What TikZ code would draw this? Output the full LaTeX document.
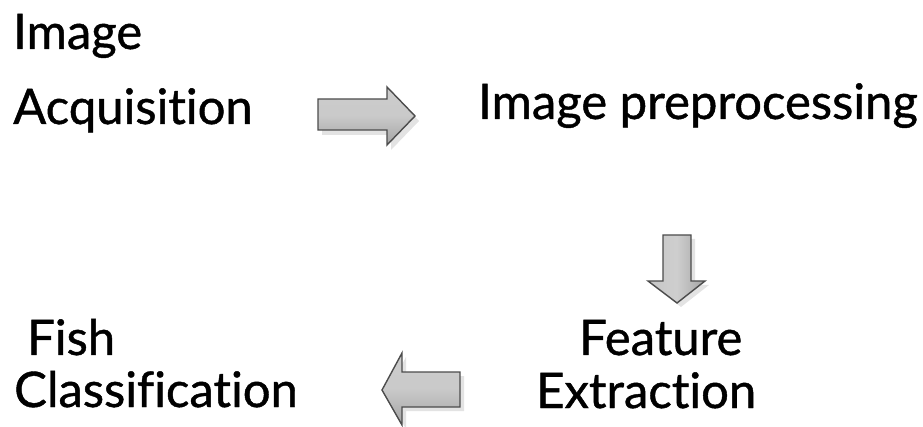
\documentclass[tikz,border=0pt]{standalone}
\usepackage{fontspec}
\setmainfont{Lato}
\newfontfamily\lblfont{Lato}[FakeBold=0.9, Ligatures={NoCommon,NoContextual}, RawFeature={-liga;-clig;-dlig}]
\begin{document}
\begin{tikzpicture}[x=1pt,y=-1pt,
  lbl/.style={anchor=base west, inner sep=0pt, font=\lblfont\fontsize{49}{49}\selectfont},
  shadowarrow/.style={fill=gray!22, draw=none},
  harrow/.style={draw=gray!60!black, line width=1.4pt, line join=miter, top color=gray!40, bottom color=gray!72, middle color=gray!42},
  varrow/.style={draw=gray!60!black, line width=1.4pt, line join=miter, left color=gray!45, right color=gray!72, middle color=gray!38}]
\useasboundingbox (0,0) rectangle (923,427);

% texts
\node[lbl] (img) at (13,49) {Image};
\node[lbl] (acq) at (13,124) {Acquisition};
\node[lbl] (pre) at (478,119) {Image preprocessing};
\node[lbl] (feat) at (579,355) {Feature};
\node[lbl] (extr) at (536,408) {Extraction};
\node[lbl] (fish) at (27,355) {Fish};
\node[lbl] (cls) at (14,407) {Classification};

% arrow 1: right
\fill[shadowarrow] (322,104) -- (391,104) -- (391,92) -- (419,121) -- (391,150) -- (391,135) -- (322,135) -- cycle;
\path[harrow] (318,99) -- (387,99) -- (387,87) -- (415,116) -- (387,145) -- (387,130) -- (318,130) -- cycle;

% arrow 2: down
\fill[shadowarrow] (667,239) -- (695,239) -- (695,285) -- (709,285) -- (681,307) -- (652,285) -- (667,285) -- cycle;
\path[varrow] (663,235) -- (691,235) -- (691,281) -- (705,281) -- (677,303) -- (648,281) -- (663,281) -- cycle;

% arrow 3: left
\fill[shadowarrow] (386,394) -- (406,357) -- (406,376) -- (464,376) -- (464,411) -- (406,411) -- (406,429) -- cycle;
\path[harrow] (382,390) -- (402,353) -- (402,372) -- (460,372) -- (460,407) -- (402,407) -- (402,425) -- cycle;
\end{tikzpicture}
\end{document}
